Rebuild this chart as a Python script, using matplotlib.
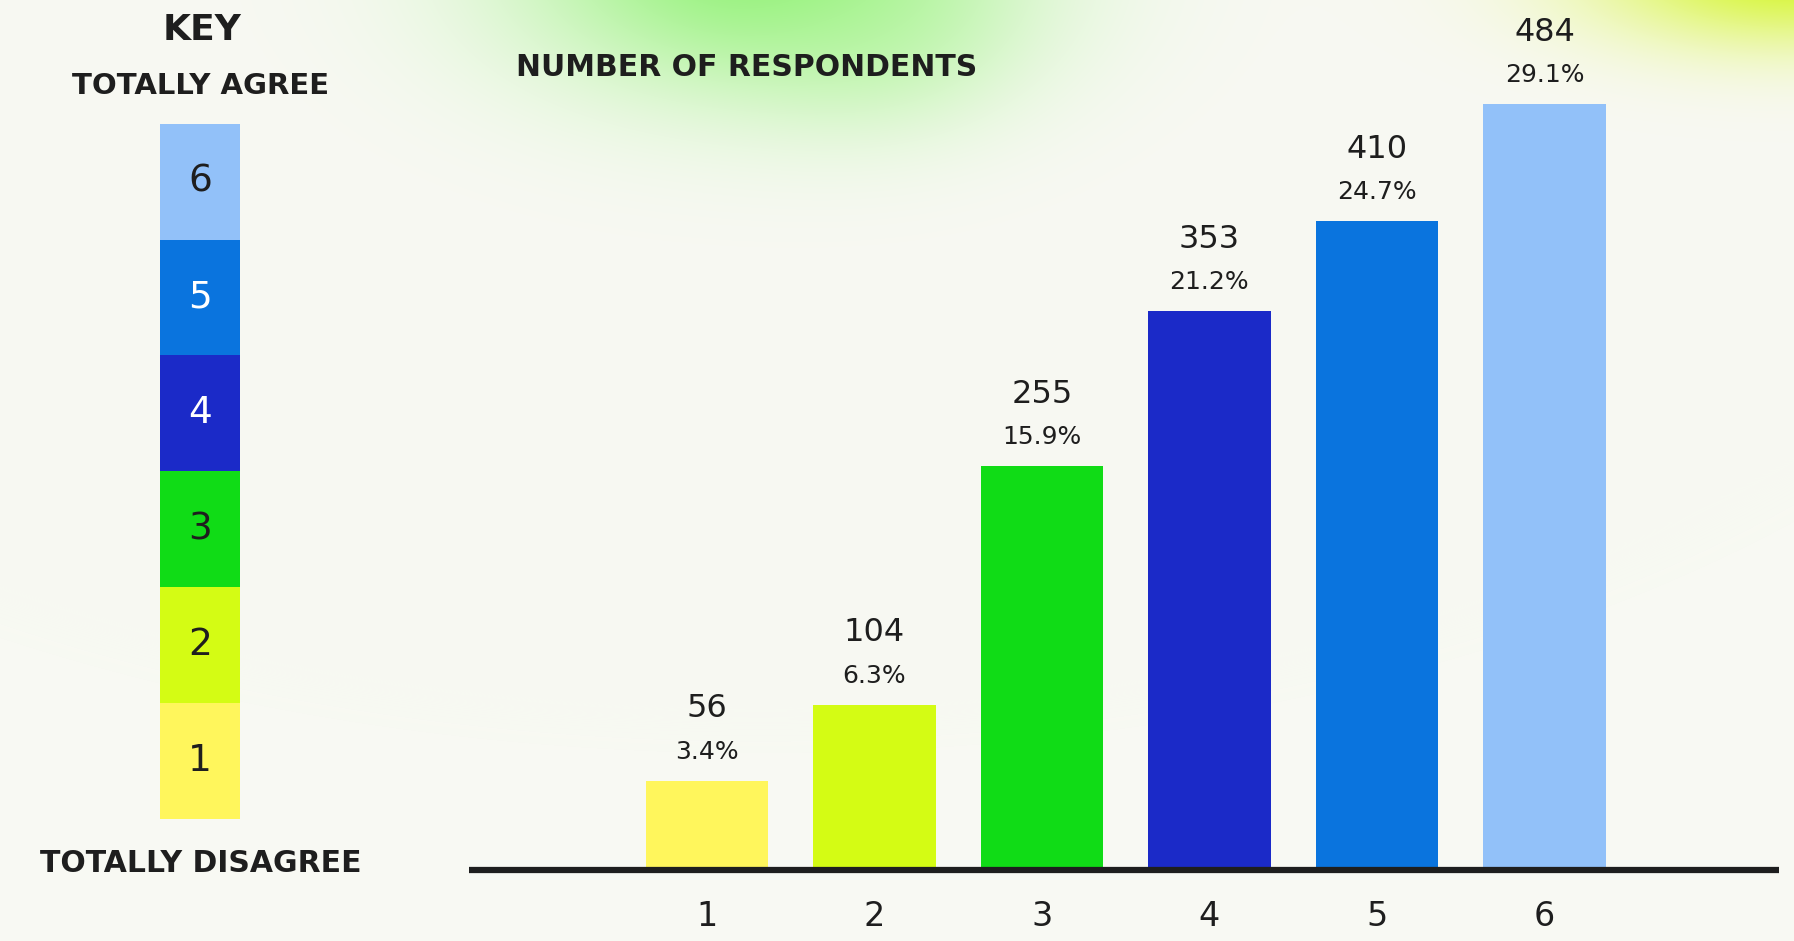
import numpy as np
import matplotlib
matplotlib.use("Agg")
import matplotlib.pyplot as plt
from matplotlib.colors import to_rgb

# data
levels = [1, 2, 3, 4, 5, 6]
respondents = [56, 104, 255, 353, 410, 484]
percents = ["3.4%", "6.3%", "15.9%", "21.2%", "24.7%", "29.1%"]
bar_colors = ["#fff65c", "#d4fc14", "#10dc16", "#1b2ac8", "#0a74de", "#92c1f9"]
key_text_colors = ["#1e1e1e", "#1e1e1e", "#1e1e1e", "#ffffff", "#ffffff", "#1e1e1e"]

BG = "#f8f9f3"
INK = "#1e1e1e"
W, H = 1794, 941

plt.rcParams['font.family'] = ['DejaVu Sans']

fig = plt.figure(figsize=(W / 100, H / 100), dpi=100, facecolor=BG)

# soft green / lime glow at the top
bg = fig.add_axes([0, 0, 1, 1], zorder=-10)
yy, xx = np.mgrid[0:H, 0:W]
img = np.ones((H, W, 3)) * np.array(to_rgb(BG))
def glow(cx, cy, sx, sy, color, strength):
    a = strength * np.exp(-(((xx - cx) / sx) ** 2 + ((yy - cy) / sy) ** 2))
    c = np.array(to_rgb(color))
    return a[..., None], c
for cx, cy, sx, sy, col, s in [(760, -40, 240, 130, "#7cf05c", 0.8),
                               (880, 40, 130, 90, "#a8f590", 0.35),
                               (1794, -30, 200, 75, "#d2f51c", 0.9)]:
    a, c = glow(cx, cy, sx, sy, col, s)
    img = img * (1 - a) + c * a
bg.imshow(img, extent=(0, W, H, 0), aspect='auto')
bg.set_xlim(0, W)
bg.set_ylim(H, 0)
bg.axis('off')

# main bar chart
ax = fig.add_axes([469 / W, 1 - 869.5 / H, (1779 - 469) / W, 869.5 / H])
ax.patch.set_alpha(0)
ax.bar(levels, respondents, width=0.73, color=bar_colors, zorder=2)
ax.axhline(0, color=INK, linewidth=4.5, zorder=3, solid_capstyle='butt', clip_on=False)
ax.set_xlim(-0.42, 7.40)
ax.set_ylim(0, 550)
for s in ax.spines.values():
    s.set_visible(False)
ax.set_yticks([])
ax.set_xticks(levels)
ax.set_xticklabels([str(l) for l in levels], fontsize=24, color=INK)
ax.tick_params(axis='x', length=0, pad=22)

for x, v, p in zip(levels, respondents, percents):
    ax.annotate(str(v), (x, v), xytext=(0, 52), textcoords='offset points',
                ha='center', va='center', fontsize=23, color=INK)
    ax.annotate(p, (x, v), xytext=(0, 21), textcoords='offset points',
                ha='center', va='center', fontsize=18, color=INK)

fig.text(516 / W, 1 - 67 / H, "NUMBER OF RESPONDENTS", ha='left', va='center',
         fontsize=21.5, fontweight='bold', color=INK)

# key
kax = fig.add_axes([160 / W, 1 - 819 / H, 80 / W, (819 - 123.6) / H])
kax.bar([0] * len(levels), [1] * len(levels), bottom=[l - 1 for l in levels],
        width=1.0, color=bar_colors)
for l, tc in zip(levels, key_text_colors):
    kax.text(0, l - 0.5, str(l), ha='center', va='center', fontsize=27, color=tc)
kax.set_xlim(-0.5, 0.5)
kax.set_ylim(0, 6)
kax.axis('off')

fig.text(202 / W, 1 - 30 / H, "KEY", ha='center', va='center',
         fontsize=26, fontweight='bold', color=INK)
fig.text(201 / W, 1 - 86 / H, "TOTALLY AGREE", ha='center', va='center',
         fontsize=21, fontweight='bold', color=INK)
fig.text(201 / W, 1 - 864 / H, "TOTALLY DISAGREE", ha='center', va='center',
         fontsize=21.5, fontweight='bold', color=INK)

fig.savefig("out.png", dpi=100, facecolor=BG)
